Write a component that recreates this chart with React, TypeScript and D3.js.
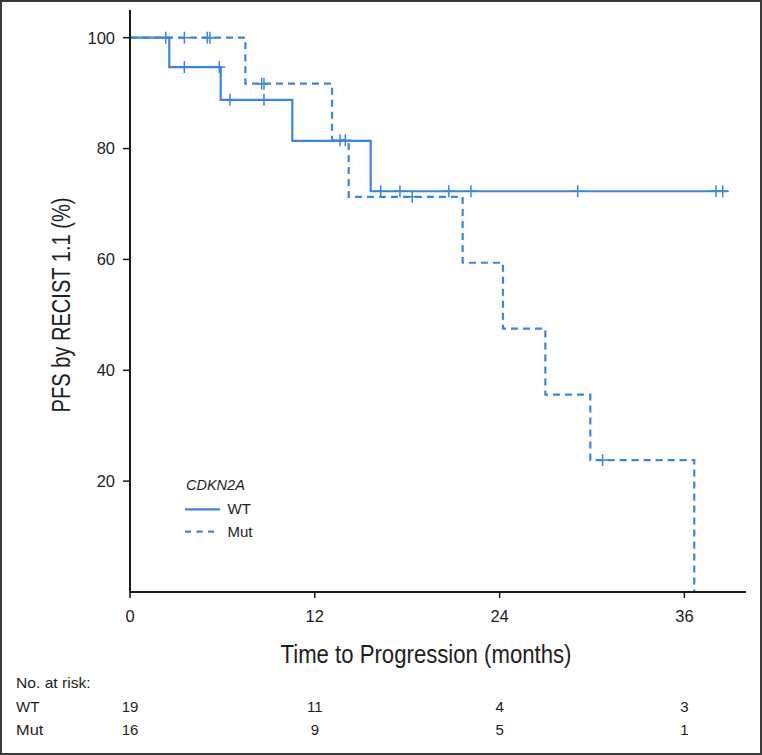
import React from "react";
import * as d3 from "d3";

// ---- data ----
const wtStepTimes = [2.55, 5.89, 10.54, 15.63];
const wtStepSurv = [94.7, 88.8, 81.4, 72.3];
const wtEndTime = 38.85;
const wtCensorTimes = [2.32, 3.53, 5.8, 6.49, 8.7, 16.28, 17.53, 20.7, 22.14, 29.07, 38.05, 38.49];

const mutStepTimes = [7.49, 13.12, 14.2, 21.6, 24.22, 26.97, 29.89, 36.64];
const mutStepSurv = [91.7, 81.5, 71.3, 59.4, 47.5, 35.6, 23.8, 0];
const mutEndTime = 36.64;
const mutCensorTimes = [3.53, 5.02, 5.19, 8.55, 8.7, 13.64, 13.98, 18.33, 30.69];

const xTicks = [0, 12, 24, 36];
const yTicks = [20, 40, 60, 80, 100];
const riskGroups = ["WT", "Mut"];
const riskWT = [19, 11, 4, 3];
const riskMut = [16, 9, 5, 1];

const W = 762;
const H = 755;
const BLUE = "#3b86d9";
const AXIS = "#1a1a1a";
const TXT = "#1e1e1e";
const SANS = "'Liberation Sans', Arial, Helvetica, sans-serif";
const NARROW = "'Liberation Sans Narrow', 'Liberation Sans', Arial, sans-serif";

function survAt(times: number[], surv: number[], t: number) {
  let s = 100;
  for (let i = 0; i < times.length; i++) if (times[i] <= t) s = surv[i];
  return s;
}

export default function App() {
  const x = d3.scaleLinear().domain([0, 40]).range([130, 746]);
  const y = d3.scaleLinear().domain([0, 105]).range([592, 10]);
  const line = d3
    .line<[number, number]>()
    .x((d) => x(d[0]))
    .y((d) => y(d[1]))
    .curve(d3.curveStepAfter);

  const wtPts: [number, number][] = [[0, 100], ...wtStepTimes.map((t, i) => [t, wtStepSurv[i]] as [number, number]), [wtEndTime, wtStepSurv[wtStepSurv.length - 1]]];
  const mutPts: [number, number][] = [[0, 100], ...mutStepTimes.map((t, i) => [t, mutStepSurv[i]] as [number, number])];
  void mutEndTime;

  const censor = (t: number, s: number, k: string) => {
    const cx = x(t);
    const cy = y(s);
    return (
      <g key={k} stroke={BLUE} strokeWidth={1.5}>
        <line x1={cx} x2={cx} y1={cy - 6} y2={cy + 6} />
        <line x1={cx - 6} x2={cx + 6} y1={cy} y2={cy} />
      </g>
    );
  };

  return (
    <div style={{ position: "absolute", left: 0, top: 0, width: W, height: H }}>
      <svg width={W} height={H} style={{ display: "block" }}>
        <rect x={0} y={0} width={W} height={H} fill="#fff" />
        <rect x={1} y={1} width={W - 2} height={H - 2} fill="none" stroke="#3a3a3a" strokeWidth={2} />

        {/* curves */}
        <path d={line(wtPts) || ""} fill="none" stroke={BLUE} strokeWidth={2.2} />
        <path d={line(mutPts) || ""} fill="none" stroke={BLUE} strokeWidth={2.2} strokeDasharray="7,5" />
        {wtCensorTimes.map((t, i) => censor(t, survAt(wtStepTimes, wtStepSurv, t), "w" + i))}
        {mutCensorTimes.map((t, i) => censor(t, survAt(mutStepTimes, mutStepSurv, t), "m" + i))}

        {/* axes */}
        <line x1={x(0)} x2={x(0)} y1={y(105)} y2={y(0) + 1} stroke={AXIS} strokeWidth={2} />
        <line x1={x(0) - 1} x2={x(40)} y1={y(0)} y2={y(0)} stroke={AXIS} strokeWidth={2} />
        {yTicks.map((v) => (
          <g key={"yt" + v}>
            <line x1={x(0) - 7} x2={x(0)} y1={y(v)} y2={y(v)} stroke={AXIS} strokeWidth={1.5} />
            <text x={x(0) - 15} y={y(v) + 5.8} textAnchor="end" fontFamily={SANS} fontSize={16.5} fill={TXT}>
              {v}
            </text>
          </g>
        ))}
        {xTicks.map((v) => (
          <g key={"xt" + v}>
            <line x1={x(v)} x2={x(v)} y1={y(0)} y2={y(0) + 6} stroke={AXIS} strokeWidth={1.5} />
            <text x={x(v)} y={622} textAnchor="middle" fontFamily={SANS} fontSize={16.5} fill={TXT}>
              {v}
            </text>
          </g>
        ))}

        {/* axis titles */}
        <text x={426} y={663.3} textAnchor="middle" fontFamily={NARROW} fontSize={25} fill={TXT} textLength={291} lengthAdjust="spacingAndGlyphs">
          Time to Progression (months)
        </text>
        <text transform="translate(70,305) rotate(-90)" textAnchor="middle" fontFamily={NARROW} fontSize={25} fill={TXT} textLength={215} lengthAdjust="spacingAndGlyphs">
          PFS by RECIST 1.1 (%)
        </text>

        {/* legend */}
        <text x={186} y={490} fontFamily={SANS} fontStyle="italic" fontSize={14.5} fill={TXT}>
          CDKN2A
        </text>
        <line x1={185} x2={220} y1={509.3} y2={509.3} stroke={BLUE} strokeWidth={2.2} />
        <text x={227.5} y={513.5} fontFamily={SANS} fontSize={15} fill={TXT}>
          WT
        </text>
        <line x1={185} x2={216} y1={531.7} y2={531.7} stroke={BLUE} strokeWidth={2.2} strokeDasharray="6,5.5" />
        <text x={227.5} y={536.5} fontFamily={SANS} fontSize={15} fill={TXT}>
          Mut
        </text>

        {/* risk table */}
        <text x={16} y={688.3} fontFamily={NARROW} fontSize={15} fill={TXT} textLength={74.7} lengthAdjust="spacingAndGlyphs">
          No. at risk:
        </text>
        {riskGroups.map((g, gi) => {
          const vals = gi === 0 ? riskWT : riskMut;
          const by = gi === 0 ? 711.7 : 735;
          return (
            <g key={g}>
              <text x={16} y={by} fontFamily={NARROW} fontSize={15} fill={TXT} textLength={gi === 0 ? 23.3 : 27.3} lengthAdjust="spacingAndGlyphs">
                {g}
              </text>
              {vals.map((v, i) => (
                <text key={i} x={x(xTicks[i])} y={by} textAnchor="middle" fontFamily={NARROW} fontSize={15} fill={TXT}>
                  {v}
                </text>
              ))}
            </g>
          );
        })}
      </svg>
    </div>
  );
}
